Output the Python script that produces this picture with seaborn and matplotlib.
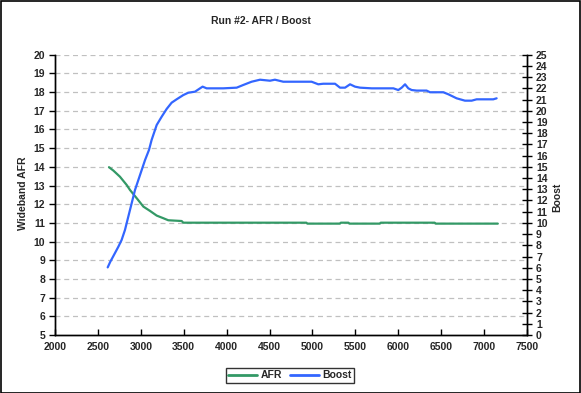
import matplotlib
matplotlib.use("Agg")
import matplotlib.pyplot as plt
import seaborn as sns
import pandas as pd
from matplotlib.lines import Line2D

sns.set_theme(style="white")
plt.rcParams['font.family'] = ['Liberation Sans', 'DejaVu Sans']

title = "Run #2- AFR / Boost"
afr_rpm = [2629, 2680, 2757, 2835, 2874, 2952, 3030, 3107, 3185, 3262, 3320, 3476, 3495,
           4930, 4940, 5320, 5330, 5420, 5430, 5785, 5795, 6425, 6435, 7160]
afr = [13.98, 13.8, 13.47, 13.03, 12.76, 12.32, 11.87, 11.64, 11.39, 11.25, 11.14, 11.1, 11.01,
       11.01, 10.96, 10.96, 11.01, 11.01, 10.96, 10.96, 11.01, 11.01, 10.96, 10.96]
boost_rpm = [2614, 2644, 2680, 2738, 2776, 2815, 2854, 2893, 2932, 2971, 3010, 3049, 3095,
             3126, 3185, 3243, 3301, 3359, 3417, 3495, 3553, 3631, 3690, 3720, 3767, 3845,
             3961, 4117, 4194, 4291, 4389, 4505, 4563, 4660, 4990, 5068, 5126, 5263, 5321,
             5380, 5438, 5496, 5554, 5690, 5943, 6000, 6040, 6079, 6117, 6156, 6214, 6330,
             6370, 6525, 6583, 6680, 6777, 6855, 6913, 7107, 7146]
boost = [6.03, 6.53, 7.04, 7.87, 8.47, 9.36, 10.55, 11.74, 12.93, 13.82, 14.71, 15.6, 16.5,
         17.4, 18.73, 19.47, 20.16, 20.72, 21.02, 21.4, 21.61, 21.7, 22.0, 22.15, 22.0, 22.0,
         22.0, 22.06, 22.3, 22.59, 22.77, 22.68, 22.77, 22.59, 22.59, 22.36, 22.41, 22.41, 22.06,
         22.06, 22.36, 22.15, 22.06, 22.0, 22.0, 21.85, 22.06, 22.36, 22.0, 21.85, 21.8, 21.8,
         21.65, 21.65, 21.47, 21.11, 20.9, 20.9, 21.02, 21.02, 21.11]
x_ticks = list(range(2000, 7501, 500))
afr_ticks = list(range(5, 21))
boost_ticks = list(range(0, 26))

green = "#339966"
blue = "#3366FF"

fig = plt.figure(figsize=(5.81, 3.93), dpi=100)
fig.patch.set_facecolor("white")
ax = fig.add_axes([55/581, 1-335/393, (527-55)/581, (335-54.7)/393])
ax2 = ax.twinx()

df_afr = pd.DataFrame({"rpm": afr_rpm, "val": afr})
df_boost = pd.DataFrame({"rpm": boost_rpm, "val": boost})
sns.lineplot(data=df_afr, x="rpm", y="val", ax=ax, color=green, lw=1.6, estimator=None, sort=False)
sns.lineplot(data=df_boost, x="rpm", y="val", ax=ax2, color=blue, lw=1.6, estimator=None, sort=False)

ax.set_xlim(2000, 7500)
ax.set_ylim(5, 20)
ax2.set_ylim(0, 25)
ax.set_xticks(x_ticks)
ax.set_yticks(afr_ticks)
ax2.set_yticks(boost_ticks)

fs = 7.5
for a in (ax, ax2):
    for s in a.spines.values():
        s.set_color("black")
        s.set_linewidth(1.0)
    a.spines["top"].set_visible(False)
    a.grid(False)
    a.set_facecolor("none")
ax.set_facecolor("white")
ax.set_zorder(0)
ax2.set_zorder(1)

for yv in afr_ticks[1:]:
    ax.axhline(yv, color="#c0c0c0", lw=0.9, ls=(0, (4, 3)), zorder=0)

ax.tick_params(axis="x", direction="in", length=4, width=1, color="black", labelsize=fs, pad=5, bottom=True)
ax.tick_params(axis="y", direction="out", length=4, width=1, color="black", labelsize=fs, pad=3, left=True)
ax2.tick_params(axis="y", direction="inout", length=7, width=1, color="black", labelsize=fs, pad=3, right=True)
for lab in ax.get_xticklabels() + ax.get_yticklabels() + ax2.get_yticklabels():
    lab.set_fontweight("bold")

ax.set_xlabel("")
ax.set_ylabel("")
ax2.set_ylabel("")
fig.text(23/581, 1-193/393, "Wideband AFR", rotation=90, ha="center", va="center",
         fontsize=fs, fontweight="bold")
fig.text(557/581, 1-197/393, "Boost", rotation=90, ha="center", va="center",
         fontsize=fs, fontweight="bold")
fig.text(261/581, 1-21/393, title, ha="center", va="center", fontsize=fs, fontweight="bold")

handles = [Line2D([], [], color=green, lw=2), Line2D([], [], color=blue, lw=2)]
leg = fig.legend(handles, ["AFR", "Boost"], loc="center", bbox_to_anchor=(290/581, 1-375.5/393),
                 ncol=2, frameon=True, fancybox=False, fontsize=fs, handlelength=2.8,
                 handletextpad=0.3, columnspacing=0.8, borderpad=0.25, prop={"weight": "bold", "size": fs})
leg.get_frame().set_edgecolor("black")
leg.get_frame().set_linewidth(1.0)

fig.add_artist(plt.Rectangle((0.001, 0.001), 0.997, 0.997, transform=fig.transFigure,
                             fill=False, edgecolor="black", lw=1.2))

fig.savefig("out.png", dpi=100)
